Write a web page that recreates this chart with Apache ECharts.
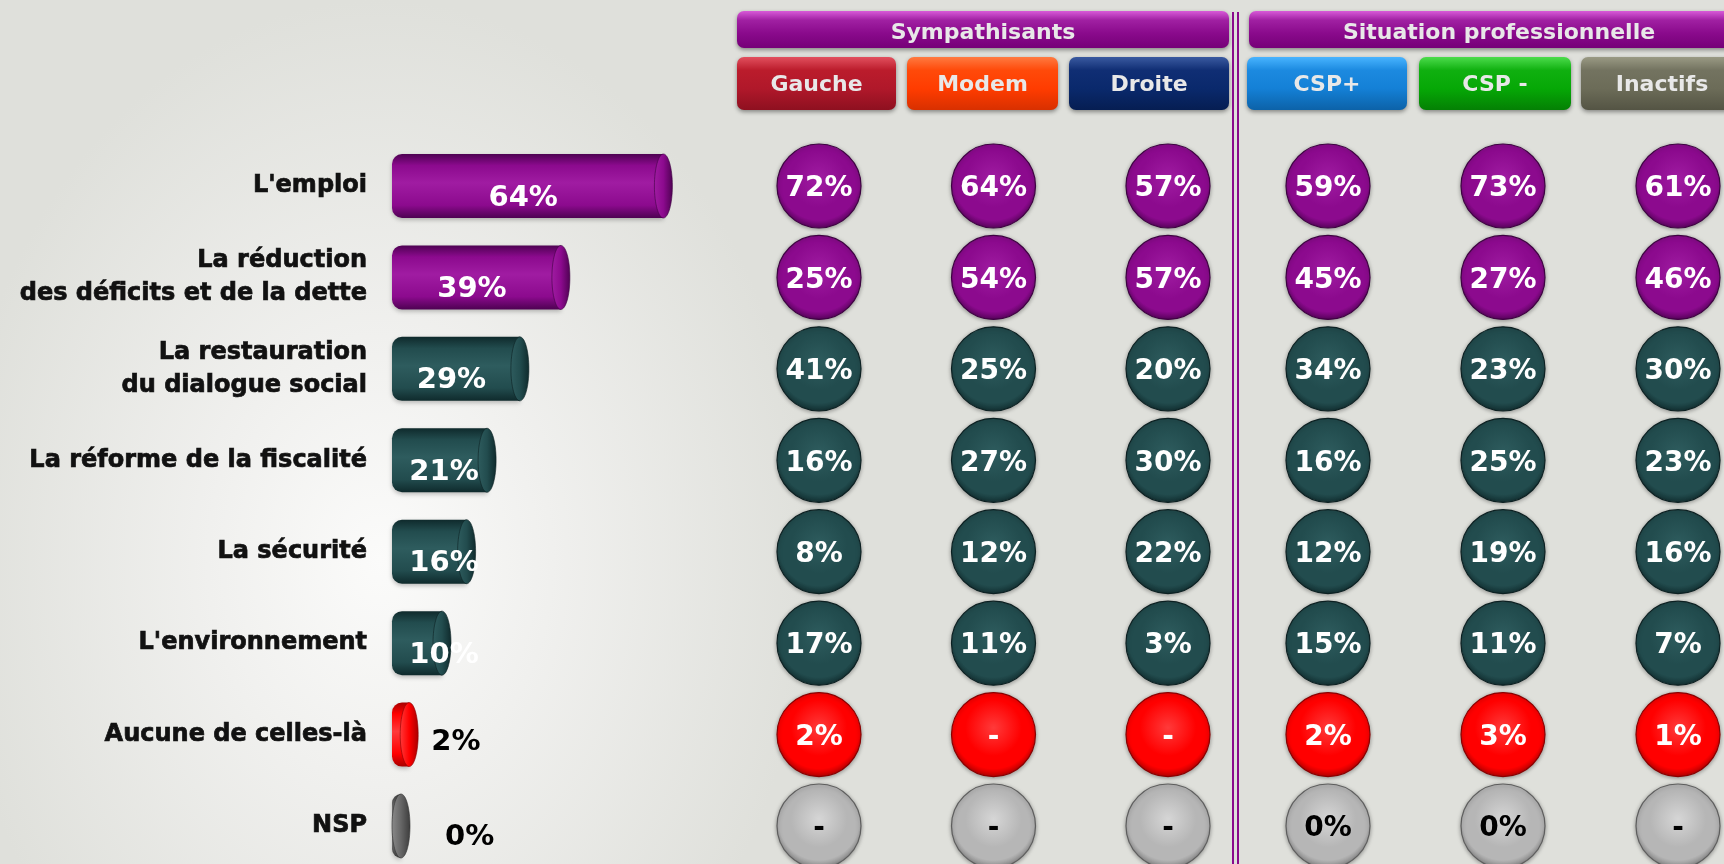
<!DOCTYPE html>
<html>
<head>
<meta charset="utf-8">
<title>Priorités</title>
<script src="https://cdn.jsdelivr.net/npm/echarts@6/dist/echarts.min.js"></script>
<style>
    html, body { margin: 0; padding: 0; }
    body {
        background: radial-gradient(ellipse 430px 560px at 380px 560px, #fbfbfa 0%, #f0f0ee 40%, #dfe0db 100%) #dfe0db;
    }
    .chart { width: 1724px; height: 864px; }
</style>
</head>
<body>
<div class="chart"></div>
<script>
// 数据
var categories = ["L'emploi", "La réduction\ndes déficits et de la dette", "La restauration\ndu dialogue social",
    "La réforme de la fiscalité", "La sécurité", "L'environnement", "Aucune de celles-là", "NSP"];
var totalValues = [64, 39, 29, 21, 16, 10, 2, 0];
var groupNames = ["Sympathisants", "Situation professionnelle"];
var sympNames = ["Gauche", "Modem", "Droite"];
var situNames = ["CSP+", "CSP -", "Inactifs"];
// null = "-"
var gauche = [72, 25, 41, 16, 8, 17, 2, null];
var modem = [64, 54, 25, 27, 12, 11, null, null];
var droite = [57, 57, 20, 30, 22, 3, null, null];
var cspPlus = [59, 45, 34, 16, 12, 15, 2, 0];
var cspMoins = [73, 27, 23, 25, 19, 11, 3, 0];
var inactifs = [61, 46, 30, 23, 16, 7, 1, null];

(function () {
    var myChart = echarts.init(document.querySelector(".chart"));
    var FONT = '"DejaVu Sans", Verdana, sans-serif';

    // 行的配色
    var themes = {
        purple: { light: '#a01ca2', base: '#8c0a8e', dark: '#4e0252', edge: '#3e0242', text: '#fff' },
        teal: { light: '#2e5c5e', base: '#224c4e', dark: '#0f2a2c', edge: '#0c2022', text: '#fff' },
        red: { light: '#ff3a3a', base: '#ff0000', dark: '#a80000', edge: '#8a0000', text: '#fff' },
        gray: { light: '#d6d6d6', base: '#b6b6b6', dark: '#7a7a7a', edge: '#5e5e5e', text: '#000' }
    };
    var barGray = { light: '#8a8a8a', base: '#666', dark: '#3c3c3c', edge: '#333' };
    function rowTheme(r) {
        if (r < 2) return themes.purple;
        if (r < 6) return themes.teal;
        if (r === 6) return themes.red;
        return themes.gray;
    }

    // 圆柱形的条
    function renderBar(params, api) {
        var v = api.value(0);
        var row = api.value(1);
        var start = api.coord([0, row]);
        var end = api.coord([v, row]);
        var h = api.size([0, 1])[1] * 0.7;
        var rx = 9;
        var cy = start[1];
        var t = row === 7 ? barGray : rowTheme(row);
        var body = new echarts.graphic.LinearGradient(0, 0, 0, 1, [
            { offset: 0, color: t.dark },
            { offset: 0.18, color: t.base },
            { offset: 0.45, color: t.light },
            { offset: 0.8, color: t.base },
            { offset: 1, color: t.dark }
        ]);
        var cap = new echarts.graphic.LinearGradient(0, 0, 1, 0, [
            { offset: 0, color: t.light },
            { offset: 0.5, color: t.base },
            { offset: 1, color: t.dark }
        ]);
        var children = [
            {
                type: 'rect',
                shape: { x: start[0] - rx, y: cy - h / 2, width: Math.max(end[0] - start[0] + rx, 2), height: h, r: [10, 0, 0, 10] },
                style: { fill: body, shadowBlur: 4, shadowColor: 'rgba(0,0,0,0.25)', shadowOffsetY: 2 }
            },
            {
                type: 'ellipse',
                shape: { cx: end[0], cy: cy, rx: rx, ry: h / 2 },
                style: { fill: cap, stroke: t.edge, lineWidth: 0.6 }
            }
        ];
        var inside = v >= 5;
        children.push({
            type: 'text',
            x: inside ? Math.max((start[0] + end[0]) / 2 - rx, start[0] + 43) : end[0] + (v > 0 ? 22 : 44),
            y: cy + (inside ? 12 : (v > 0 ? 8 : 11)),
            style: {
                text: v + '%',
                fill: inside ? '#fff' : '#000',
                font: 'bold 29px ' + FONT,
                align: inside ? 'center' : 'left',
                verticalAlign: 'middle'
            }
        });
        return { type: 'group', children: children };
    }

    // 气泡
    function bubbleData(columns) {
        var out = [];
        columns.forEach(function (col, c) {
            col.forEach(function (val, r) {
                var t = rowTheme(r);
                out.push({
                    value: [c, r, val],
                    itemStyle: {
                        color: new echarts.graphic.RadialGradient(0.5, 0.42, 0.6, [
                            { offset: 0, color: t.light },
                            { offset: 0.55, color: t.base },
                            { offset: 0.8, color: t.base },
                            { offset: 1, color: t.dark }
                        ]),
                        borderColor: t.edge,
                        borderWidth: 1.2,
                        opacity: 1
                    },
                    label: { color: t.text }
                });
            });
        });
        return out;
    }

    var bubbleLabel = {
        show: true,
        position: 'inside',
        offset: [0, 3],
        fontFamily: FONT,
        fontWeight: 'bold',
        fontSize: 28,
        formatter: function (p) {
            return p.value[2] == null ? '-' : p.value[2] + '%';
        }
    };

    // 类目轴两端对齐（boundaryGap: false），行心落在网格边上
    var rowAxis = function (idx) {
        return { type: 'category', gridIndex: idx, data: categories, inverse: true, boundaryGap: false, show: false };
    };

    // 表头
    var headerDefs = [
        { text: groupNames[0], x: 737, w: 492, y: 11, h: 37, c: ['#d85ad8', '#a020a2', '#8a0a8c', '#760078'] },
        { text: groupNames[1], x: 1249, w: 500, y: 11, h: 37, c: ['#d85ad8', '#a020a2', '#8a0a8c', '#760078'] },
        { text: sympNames[0], x: 737, w: 159, y: 57, h: 53, c: ['#e2505e', '#bb1c2c', '#b0182a', '#8e1020'] },
        { text: sympNames[1], x: 907, w: 151, y: 57, h: 53, c: ['#ff7a40', '#ff4a0a', '#ff3c00', '#d83000'] },
        { text: sympNames[2], x: 1069, w: 160, y: 57, h: 53, c: ['#3a5aa0', '#102e74', '#0a296c', '#061e52'] },
        { text: situNames[0], x: 1247, w: 160, y: 57, h: 53, c: ['#48b4ff', '#1c8ae0', '#1480d6', '#0c62a8'] },
        { text: situNames[1], x: 1419, w: 152, y: 57, h: 53, c: ['#4cdc4c', '#10b010', '#06a806', '#048004'] },
        { text: situNames[2], x: 1581, w: 162, y: 57, h: 53, c: ['#9a9a84', '#737360', '#6c6c58', '#545444'] }
    ];
    var graphics = [];
    headerDefs.forEach(function (d) {
        graphics.push({
            type: 'rect',
            shape: { x: d.x, y: d.y, width: d.w, height: d.h, r: 7 },
            style: {
                fill: new echarts.graphic.LinearGradient(0, 0, 0, 1, [
                    { offset: 0, color: d.c[0] },
                    { offset: 0.25, color: d.c[1] },
                    { offset: 0.6, color: d.c[2] },
                    { offset: 1, color: d.c[3] }
                ]),
                shadowBlur: 4,
                shadowColor: 'rgba(0,0,0,0.4)',
                shadowOffsetY: 2
            }
        });
        graphics.push({
            type: 'text',
            x: d.x + d.w / 2,
            y: d.y + d.h / 2 + (d.h < 40 ? 4 : 2),
            style: {
                text: d.text,
                fill: '#e8e8e8',
                font: 'bold 22px ' + FONT,
                align: 'center',
                verticalAlign: 'middle'
            }
        });
    });
    // 双竖线分隔
    [1233, 1238].forEach(function (x) {
        graphics.push({
            type: 'line',
            shape: { x1: x, y1: 12, x2: x, y2: 864 },
            style: { stroke: '#8a0a8c', lineWidth: 2 }
        });
    });

    var barRowAxis = rowAxis(0);
    barRowAxis.show = true;
    barRowAxis.axisLine = { show: false };
    barRowAxis.axisTick = { show: false };
    barRowAxis.splitLine = { show: false };
    barRowAxis.axisLabel = {
        margin: 34,
        color: '#111',
        fontFamily: FONT,
        fontWeight: 'bold',
        fontSize: 24,
        lineHeight: 33,
        padding: [9, 0, 0, 0],
        textBorderColor: '#111',
        textBorderWidth: 0.7,
        align: 'right'
    };

    var option = {
        animation: false,
        grid: [
            { left: 401, width: 410, top: 186, height: 640 },
            { left: 819, width: 349, top: 186, height: 640 },
            { left: 1328, width: 350, top: 186, height: 640 }
        ],
        xAxis: [
            { type: 'value', gridIndex: 0, min: 0, max: 100, show: false },
            { type: 'category', gridIndex: 1, data: sympNames, boundaryGap: false, show: false },
            { type: 'category', gridIndex: 2, data: situNames, boundaryGap: false, show: false }
        ],
        yAxis: [barRowAxis, rowAxis(1), rowAxis(2)],
        graphic: graphics,
        series: [
            {
                type: 'custom',
                xAxisIndex: 0,
                yAxisIndex: 0,
                renderItem: renderBar,
                encode: { x: 0, y: 1 },
                data: totalValues.map(function (v, i) { return [v, i]; })
            },
            {
                type: 'scatter',
                xAxisIndex: 1,
                yAxisIndex: 1,
                symbolSize: 84,
                label: bubbleLabel,
                itemStyle: { opacity: 1, shadowBlur: 4, shadowColor: 'rgba(0,0,0,0.35)', shadowOffsetY: 1 },
                data: bubbleData([gauche, modem, droite])
            },
            {
                type: 'scatter',
                xAxisIndex: 2,
                yAxisIndex: 2,
                symbolSize: 84,
                label: bubbleLabel,
                itemStyle: { opacity: 1, shadowBlur: 4, shadowColor: 'rgba(0,0,0,0.35)', shadowOffsetY: 1 },
                data: bubbleData([cspPlus, cspMoins, inactifs])
            }
        ]
    };
    myChart.setOption(option);
    window.addEventListener('resize', function () {
        myChart.resize();
    });
})();
</script>
</body>
</html>
